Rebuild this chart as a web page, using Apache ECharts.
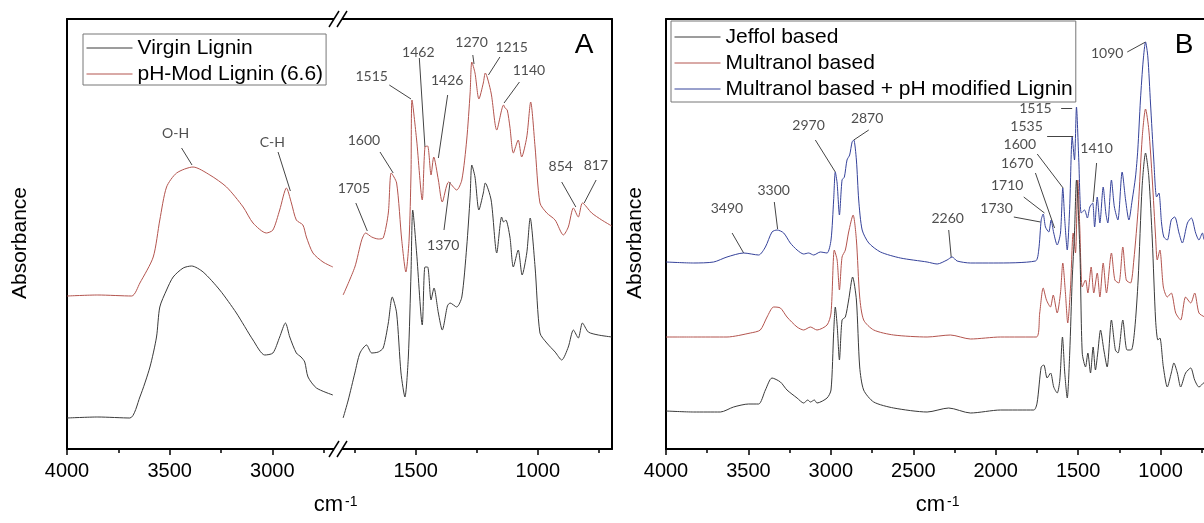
<!DOCTYPE html>
<html>
<head>
<meta charset="utf-8">
<title>FTIR spectra</title>
<script src="https://cdn.jsdelivr.net/npm/echarts@6.0.0/dist/echarts.min.js"></script>
<style>
  html, body { margin: 0; padding: 0; background: #fff; }
  #chart { width: 1204px; height: 523px; }
</style>
</head>
<body>
<div id="chart"></div>
<script>
'use strict';
// spectra as [wavenumber cm-1, absorbance (a.u., offset)]
// panel A, left part of the broken axis (4000 - 2680)
const virginLeft = [[4000,31],[3850,32],[3694,31],[3645,52],[3596,82],[3564,112],[3548,142],[3515,159],[3483,172],[3434,181],[3393,183],[3337,177],[3256,159],[3175,136],[3094,109],[3037,94],[2997,96],[2964,112],[2936,126],[2915,112],[2883,96],[2860,92],[2842,87],[2826,72],[2785,61],[2705,54]];
const phModLeft = [[4000,153],[3850,154],[3685,153],[3645,166],[3580,192],[3548,229],[3515,262],[3466,276],[3386,282],[3304,274],[3223,262],[3142,242],[3094,226],[3029,216],[2997,219],[2964,239],[2931,261],[2907,246],[2883,229],[2851,224],[2834,212],[2802,196],[2753,187],[2705,182]];
// panel A, right part (1818 - 696)
const virginRight = [[1797,31],[1776,49],[1749,76],[1728,96],[1701,104],[1680,96],[1653,97],[1633,101],[1612,126],[1596,152],[1578,136],[1560,76],[1544,52],[1530,92],[1519,176],[1512,239],[1496,196],[1473,124],[1462,182],[1451,182],[1437,149],[1425,161],[1407,136],[1391,119],[1370,143],[1359,146],[1332,142],[1311,152],[1291,202],[1277,252],[1270,284],[1257,272],[1241,239],[1223,256],[1215,266],[1191,249],[1168,196],[1148,232],[1140,227],[1131,229],[1114,212],[1100,182],[1080,199],[1064,174],[1045,196],[1031,231],[1011,182],[991,116],[963,106],[929,97],[902,89],[875,102],[854,119],[834,111],[817,126],[793,117],[752,114],[697,112]];
const phModRight = [[1797,154],[1749,182],[1721,209],[1705,216],[1680,212],[1653,210],[1633,211],[1612,236],[1600,276],[1578,266],[1557,209],[1540,177],[1527,209],[1519,276],[1515,349],[1496,309],[1473,249],[1462,302],[1451,303],[1437,274],[1426,292],[1407,269],[1391,247],[1365,267],[1332,259],[1311,269],[1291,309],[1277,356],[1270,387],[1257,376],[1241,350],[1223,366],[1215,376],[1191,356],[1168,319],[1140,344],[1134,341],[1125,339],[1114,322],[1100,296],[1080,309],[1066,292],[1045,312],[1029,347],[1011,302],[991,246],[963,236],[929,229],[895,214],[875,222],[854,241],[834,232],[817,246],[779,236],[738,229],[697,223]];
// panel B
const jeffol = [[4000,38],[3832,37],[3670,37],[3590,42],[3499,45],[3438,45],[3397,59],[3357,71],[3306,67],[3266,59],[3205,51],[3165,46],[3140,49],[3124,47],[3100,49],[3084,46],[3023,51],[2999,59],[2983,116],[2973,142],[2961,122],[2948,89],[2932,129],[2912,132],[2892,149],[2868,172],[2845,149],[2825,82],[2801,59],[2740,47],[2619,41],[2416,37],[2285,41],[2153,36],[1971,39],[1769,39],[1749,46],[1724,82],[1708,84],[1688,71],[1667,76],[1648,62],[1627,56],[1611,69],[1595,112],[1581,76],[1566,51],[1551,96],[1536,169],[1522,216],[1510,269],[1489,196],[1475,96],[1455,82],[1441,96],[1425,76],[1409,102],[1395,79],[1381,96],[1364,119],[1344,99],[1324,82],[1298,129],[1274,99],[1258,96],[1229,129],[1203,99],[1178,99],[1157,119],[1136,169],[1112,262],[1091,296],[1071,272],[1050,209],[1030,129],[1016,109],[1004,111],[983,82],[959,62],[935,76],[919,86],[898,76],[878,62],[848,76],[817,81],[793,69],[767,62],[733,67],[700,70]];
const multranol = [[4000,112],[3832,112],[3630,112],[3488,116],[3428,119],[3387,132],[3347,142],[3306,141],[3266,132],[3205,122],[3165,119],[3124,122],[3084,119],[3023,124],[2999,136],[2979,199],[2962,189],[2948,159],[2932,192],[2912,199],[2892,217],[2865,234],[2845,209],[2825,152],[2801,129],[2740,119],[2619,114],[2416,112],[2275,114],[2153,110],[1971,112],[1753,112],[1733,136],[1712,161],[1692,149],[1668,142],[1651,154],[1627,136],[1607,156],[1593,186],[1577,156],[1563,126],[1546,162],[1530,216],[1516,196],[1502,269],[1490,222],[1475,162],[1455,169],[1441,156],[1421,182],[1405,156],[1384,176],[1368,152],[1348,186],[1328,156],[1298,196],[1277,169],[1253,166],[1229,202],[1208,169],[1182,166],[1162,189],[1135,242],[1111,312],[1091,340],[1071,319],[1050,269],[1030,212],[1020,189],[1004,199],[983,162],[959,152],[935,156],[908,136],[878,129],[848,152],[817,146],[793,156],[767,136],[733,132],[700,128]];
const multranolPh = [[4000,187],[3832,186],[3711,187],[3630,192],[3529,196],[3438,194],[3397,202],[3357,217],[3326,219],[3286,216],[3246,206],[3205,199],[3165,195],[3135,196],[3104,194],[3064,197],[3023,196],[2999,209],[2983,249],[2973,277],[2962,266],[2948,234],[2932,269],[2918,272],[2902,289],[2886,294],[2871,307],[2861,309],[2845,289],[2831,249],[2810,219],[2770,206],[2699,197],[2578,191],[2416,187],[2355,185],[2295,189],[2264,192],[2234,188],[2153,186],[2012,186],[1759,188],[1739,199],[1724,229],[1712,235],[1698,222],[1678,217],[1664,229],[1648,216],[1627,204],[1607,216],[1593,261],[1581,229],[1566,199],[1551,242],[1536,312],[1522,289],[1510,342],[1496,289],[1481,236],[1461,239],[1444,231],[1429,242],[1412,246],[1400,222],[1384,252],[1368,226],[1348,262],[1332,236],[1320,226],[1298,269],[1280,242],[1259,229],[1233,277],[1212,249],[1192,229],[1172,249],[1152,272],[1138,299],[1122,349],[1105,389],[1091,407],[1077,392],[1061,346],[1041,289],[1024,252],[1010,256],[994,226],[980,212],[959,209],[935,229],[914,232],[888,216],[868,206],[837,226],[813,231],[787,216],[767,209],[746,216],[733,209],[700,212]];

// axis ticks
const majorA1 = [4000, 3500, 3000];
const minorA1 = [3750, 3250, 2750];
const majorA2 = [1500, 1000];
const minorA2 = [1750, 1250, 750];
const majorB = [4000, 3500, 3000, 2500, 2000, 1500, 1000];
const minorB = [3750, 3250, 2750, 2250, 1750, 1250, 750];

// peak labels: [text, label x, label y, leader from x, y, leader to x, y]
const peaksA1 = [
    ['O-H', 3471, 316, 3442, 301, 3391, 284],
    ['C-H', 3000, 307, 2972, 297, 2912, 258],
];
const peaksA2 = [
    ['1705', 1753, 261, 1745, 246, 1698, 218],
    ['1600', 1712, 309, 1646, 297, 1592, 276],
    ['1515', 1680, 373, 1608, 364, 1519, 350],
    ['1462', 1489, 397, 1485, 391, 1462, 302],
    ['1426', 1371, 369, 1369, 354, 1407, 291],
    ['1370', 1387, 204, 1384, 219, 1359, 267],
    ['1270', 1271, 407, 1266, 394, 1261, 385],
    ['1215', 1107, 402, 1155, 392, 1202, 374],
    ['1140', 1036, 379, 1075, 367, 1138, 346],
    ['854', 906, 283, 902, 267, 844, 242],
    ['817', 762, 284, 761, 269, 810, 246],
];
const peaksB = [
    ['3490', 3630, 241, 3599, 216, 3529, 196],
    ['3300', 3347, 259, 3343, 247, 3323, 220],
    ['2970', 3135, 324, 3094, 309, 2973, 277],
    ['2870', 2780, 331, 2770, 319, 2861, 309],
    ['2260', 2291, 231, 2285, 219, 2270, 192],
    ['1730', 1995, 241, 1890, 232, 1728, 227],
    ['1710', 1930, 264, 1830, 252, 1704, 236],
    ['1670', 1870, 286, 1759, 276, 1643, 221],
    ['1600', 1854, 305, 1748, 295, 1591, 261],
    ['1535', 1813, 323, 1688, 313, 1530, 313],
    ['1515', 1759, 341, 1603, 341, 1536, 341],
    ['1410', 1388, 301, 1388, 286, 1409, 247],
    ['1090', 1324, 396, 1202, 397, 1091, 407],
];

const BLACK = '#3a3a3a';
const RED = '#b3544e';
const BLUE = '#35429a';
const FONT = 'Liberation Sans, Arial, sans-serif';
const frameLine = { color: '#000', width: 2 };

function xAxes(grid, min, max, majors, minors) {
    const base = { gridIndex: grid, type: 'value', min: min, max: max, inverse: true, splitLine: { show: false } };
    return [
        Object.assign({}, base, {
            position: 'bottom',
            axisLine: { show: true, onZero: false, lineStyle: frameLine },
            axisTick: { show: true, customValues: majors, length: 6, lineStyle: { color: '#000', width: 1.5 } },
            axisLabel: {
                show: true, customValues: majors, margin: 12, fontSize: 20, fontFamily: FONT, color: '#000',
                formatter: (v) => String(v),
            },
        }),
        Object.assign({}, base, {
            position: 'bottom',
            axisLine: { show: false, onZero: false },
            axisTick: { show: true, customValues: minors, length: 4, lineStyle: { color: '#000', width: 1.5 } },
            axisLabel: { show: false },
        }),
        Object.assign({}, base, {
            position: 'top',
            axisLine: { show: true, onZero: false, lineStyle: frameLine },
            axisTick: { show: false },
            axisLabel: { show: false },
        }),
    ];
}

function yAxis(grid, position) {
    return {
        gridIndex: grid, type: 'value', min: 0, max: 430, position: position,
        axisLine: { show: true, onZero: false, lineStyle: frameLine },
        axisTick: { show: false }, axisLabel: { show: false }, splitLine: { show: false },
    };
}

function spectrum(name, data, xi, yi, color) {
    return {
        name: name, type: 'line', data: data, xAxisIndex: xi, yAxisIndex: yi,
        symbol: 'none', smooth: 0.25,
        lineStyle: { color: color, width: 1 }, itemStyle: { color: color },
    };
}

function peakSeries(peaks, xi, yi) {
    return [
        {
            type: 'lines', coordinateSystem: 'cartesian2d', xAxisIndex: xi, yAxisIndex: yi, silent: true,
            data: peaks.map((p) => ({ coords: [[p[3], p[4]], [p[5], p[6]]] })),
            lineStyle: { color: '#444', width: 1, opacity: 1, curveness: 0 },
        },
        {
            type: 'scatter', xAxisIndex: xi, yAxisIndex: yi, silent: true, symbolSize: 1,
            data: peaks.map((p) => [p[1], p[2], p[0]]),
            itemStyle: { color: 'rgba(0,0,0,0)' },
            label: { show: true, position: 'inside', formatter: (d) => d.data[2], fontFamily: 'Lato', fontSize: 14, color: '#222' },
        },
    ];
}

function legend(names, left, top, padding) {
    return {
        data: names, orient: 'vertical', left: left, top: top, selectedMode: false,
        itemWidth: 46, itemHeight: 14, itemGap: 4, padding: padding,
        borderColor: '#777', borderWidth: 1, backgroundColor: '#fff',
        itemStyle: { opacity: 0 },
        lineStyle: { width: 1 },
        textStyle: { fontSize: 21, fontFamily: FONT, color: '#000', lineHeight: 22 },
    };
}

function text(x, y, str, font, align, extra) {
    return Object.assign({
        type: 'text', x: x, y: y,
        style: { text: str, font: font, fill: '#000', align: align, verticalAlign: 'middle' },
    }, extra || {});
}

function breakMark(x, y) {
    return [
        { type: 'rect', shape: { x: x - 4, y: y - 4, width: 8, height: 8 }, style: { fill: '#fff' }, z: 100 },
        { type: 'line', shape: { x1: x - 9, y1: y + 8, x2: x + 1, y2: y - 8 }, style: { stroke: '#000', lineWidth: 1.5 }, z: 101 },
        { type: 'line', shape: { x1: x - 1, y1: y + 8, x2: x + 9, y2: y - 8 }, style: { stroke: '#000', lineWidth: 1.5 }, z: 101 },
    ];
}

function init() {
    const chart = echarts.init(document.getElementById('chart'));
    const option = {
        animation: false,
        grid: [
            { left: 67, top: 19, width: 271, height: 430, outerBoundsMode: 'none' },
            { left: 338, top: 19, width: 274, height: 430, outerBoundsMode: 'none' },
            { left: 666, top: 19, width: 544, height: 430, outerBoundsMode: 'none' },
        ],
        xAxis: [].concat(
            xAxes(0, 2680, 4000, majorA1, minorA1),
            xAxes(1, 696, 1818, majorA2, minorA2),
            xAxes(2, 700, 4000, majorB, minorB)
        ),
        yAxis: [yAxis(0, 'left'), yAxis(1, 'right'), yAxis(2, 'left')],
        legend: [
            legend(['Virgin Lignin', 'pH-Mod Lignin (6.6)'], 83, 34, [3, 3, 0, 3]),
            legend(['Jeffol based', 'Multranol based', 'Multranol based + pH modified Lignin'], 671, 21, [5, 3, 2, 3]),
        ],
        series: [].concat(
            [
                spectrum('pH-Mod Lignin (6.6)', phModLeft, 0, 0, RED),
                spectrum('Virgin Lignin', virginLeft, 0, 0, BLACK),
                spectrum('pH-Mod Lignin (6.6)', phModRight, 3, 1, RED),
                spectrum('Virgin Lignin', virginRight, 3, 1, BLACK),
                spectrum('Multranol based + pH modified Lignin', multranolPh, 6, 2, BLUE),
                spectrum('Multranol based', multranol, 6, 2, RED),
                spectrum('Jeffol based', jeffol, 6, 2, BLACK),
            ],
            peakSeries(peaksA1, 0, 0),
            peakSeries(peaksA2, 3, 1),
            peakSeries(peaksB, 6, 2)
        ),
        graphic: [].concat(
            [
                text(20, 243, 'Absorbance', '21px ' + FONT, 'center', { rotation: Math.PI / 2 }),
                text(635, 243, 'Absorbance', '21px ' + FONT, 'center', { rotation: Math.PI / 2 }),
                text(343, 505, 'cm', '22px ' + FONT, 'right'),
                text(345, 502, '-1', '14px ' + FONT, 'left'),
                text(945, 505, 'cm', '22px ' + FONT, 'right'),
                text(947, 502, '-1', '14px ' + FONT, 'left'),
                text(584, 45, 'A', '28px ' + FONT, 'center'),
                text(1184, 45, 'B', '28px ' + FONT, 'center'),
            ],
            breakMark(338, 19),
            breakMark(338, 449)
        ),
    };

    chart.setOption(option);
    window.addEventListener('resize', () => chart.resize());
}

(function () {
    init();
})();
</script>
</body>
</html>
